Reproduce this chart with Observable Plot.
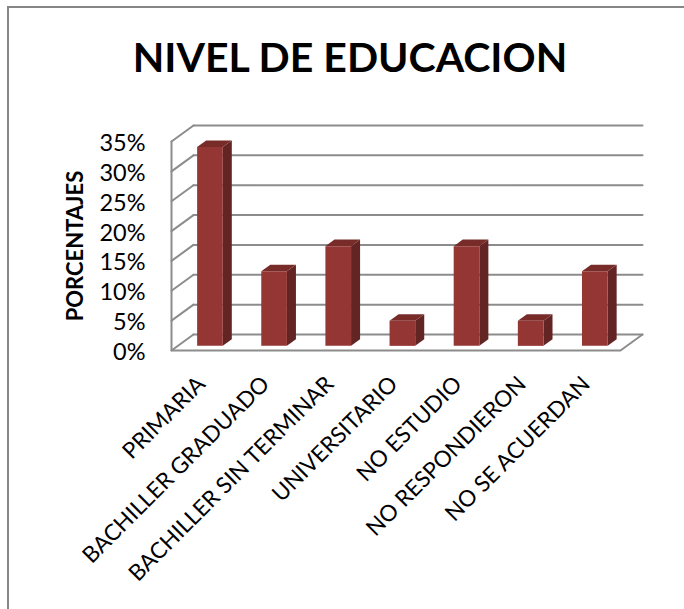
<!DOCTYPE html>
<html>
<head>
<meta charset="utf-8">
<script src="https://cdn.jsdelivr.net/npm/d3@7"></script>
<script src="https://cdn.jsdelivr.net/npm/@observablehq/plot@0.6"></script>
<style>
  html, body { margin: 0; padding: 0; background: #fff; }
  #frame { position: absolute; left: 7px; top: 6px; width: 677px; height: 603px;
           border-left: 2px solid #868686; border-top: 2px solid #868686; box-sizing: border-box; pointer-events: none; }
  #chart { position: absolute; left: 0; top: 0; }
</style>
</head>
<body>
<div id="chart"></div>
<div id="frame"></div>
<script>
const categories = ["PRIMARIA", "BACHILLER GRADUADO", "BACHILLER SIN TERMINAR", "UNIVERSITARIO", "NO ESTUDIO", "NO RESPONDIERON", "NO SE ACUERDAN"];
const values = [33.3, 12.5, 16.7, 4.2, 16.7, 4.2, 12.5];
const yTicks = [0, 5, 10, 15, 20, 25, 30, 35];

// Oblique projection of the chart's depth axis onto the (category, percent) plane
const depthX = 0.343, depthY = 2.68;
const project = (c, v, d) => ({x: c + d * depthX, y: v + d * depthY});
const halfBar = 0.2, barFront = 0.29, barBack = 0.7;

const barRows = categories.map((name, i) => ({name, i, c: i + 0.5, v: values[i]}));
const faces = (corners) => barRows.flatMap(b => corners(b).map(([c, v, d]) => ({id: b.name, ...project(c, v, d)})));

const front = faces(b => [[b.c - halfBar, 0, barFront], [b.c + halfBar, 0, barFront], [b.c + halfBar, b.v, barFront], [b.c - halfBar, b.v, barFront]]);
const side = faces(b => [[b.c + halfBar, 0, barFront], [b.c + halfBar, 0, barBack], [b.c + halfBar, b.v, barBack], [b.c + halfBar, b.v, barFront]]);
const top_ = faces(b => [[b.c - halfBar, b.v, barFront], [b.c + halfBar, b.v, barFront], [b.c + halfBar, b.v, barBack], [b.c - halfBar, b.v, barBack]]);

const backGrid = yTicks.flatMap(v => [{id: v, ...project(0, v, 1)}, {id: v, ...project(7, v, 1)}]);
const wallGrid = yTicks.flatMap(v => [{id: v, ...project(0, v, 0)}, {id: v, ...project(0, v, 1)}]);
const floorEdge = [project(0, 35, 0), project(0, 0, 0), project(7, 0, 0), project(7, 0, 1)];

const grid = {stroke: "#8c8c8c", strokeWidth: 2};
const font = "Lato, Carlito, 'Open Sans', sans-serif";

const plot = Plot.plot({
  width: 684, height: 609,
  marginLeft: 171, marginRight: 64, marginTop: 141, marginBottom: 259,
  style: {fontFamily: font, background: "transparent", color: "#000"},
  x: {domain: [0, 7], axis: null},
  y: {domain: [0, 35], axis: null},
  marks: [
    Plot.line(backGrid, {x: "x", y: "y", z: "id", ...grid}),
    Plot.line(wallGrid, {x: "x", y: "y", z: "id", ...grid}),
    Plot.line(floorEdge, {x: "x", y: "y", ...grid}),
    Plot.line(side, {x: "x", y: "y", z: "id", fill: "#632523", stroke: null}),
    Plot.line(top_, {x: "x", y: "y", z: "id", fill: "#772c2a", stroke: null}),
    Plot.line(front, {x: "x", y: "y", z: "id", fill: "#943634", stroke: null}),
    Plot.axisY(yTicks, {anchor: "left", tickSize: 0, tickPadding: 26, tickFormat: d => d + "%", fontSize: 23.5, dy: 2, label: null}),
    Plot.text(barRows, {x: "c", frameAnchor: "bottom", text: "name", rotate: -45, textAnchor: "end", fontSize: 22.5, dx: 3, dy: 35, fill: "#000"}),
    Plot.text(["NIVEL DE EDUCACION"], {frameAnchor: "top", dx: -46, dy: -99, fontSize: 41, fontWeight: 700, fill: "#000"}),
    Plot.text(["PORCENTAJES"], {frameAnchor: "left", rotate: -90, textAnchor: "middle", dx: -96, dy: 0, fontSize: 22, fontWeight: 700, fill: "#000"})
  ]
});
document.getElementById("chart").appendChild(plot);
</script>
</body>
</html>
